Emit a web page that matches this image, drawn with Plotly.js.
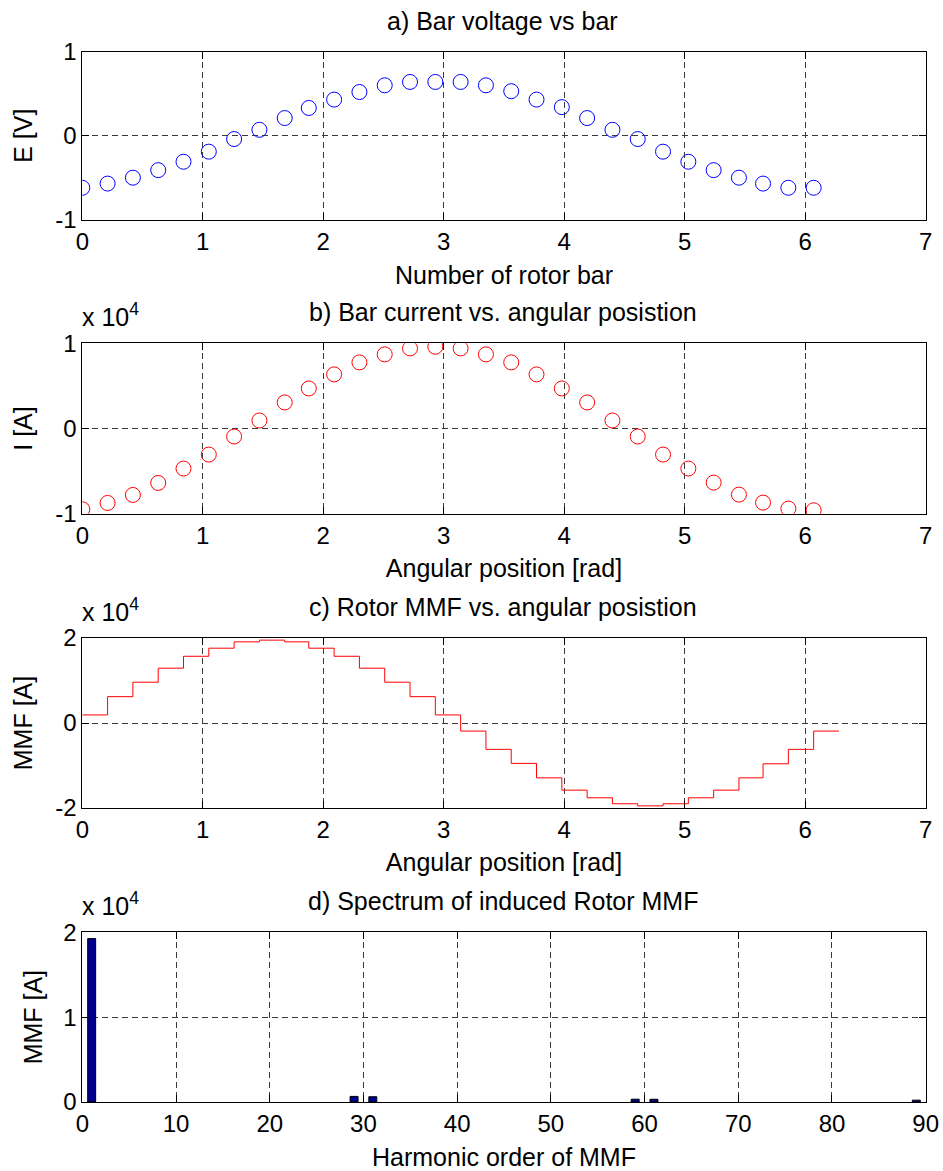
<!DOCTYPE html>
<html>
<head>
<meta charset="utf-8">
<script src="https://cdn.plot.ly/plotly-3.0.1.min.js"></script>
<style>
html,body{margin:0;padding:0;background:#fff;}
#chart{width:943px;height:1171px;}
</style>
</head>
<body>
<div id="chart"></div>
<script>
// ---- data ----
var barAngle = [0, 0.21, 0.42, 0.63, 0.84, 1.05, 1.26, 1.47, 1.68, 1.88,
                2.09, 2.30, 2.51, 2.72, 2.93, 3.14, 3.35, 3.56, 3.77, 3.98,
                4.19, 4.40, 4.61, 4.82, 5.03, 5.24, 5.45, 5.65, 5.86, 6.07];
var barVoltage = [-0.62, -0.57, -0.50, -0.41, -0.31, -0.19, -0.04, 0.07, 0.21, 0.33,
                  0.43, 0.52, 0.60, 0.64, 0.64, 0.64, 0.60, 0.53, 0.43, 0.34,
                  0.21, 0.07, -0.04, -0.19, -0.31, -0.41, -0.50, -0.57, -0.62, -0.62];
var barCurrent = [-9480, -8740, -7800, -6390, -4700, -3060, -940, 940, 3060, 4700,
                  6350, 7760, 8700, 9400, 9600, 9400, 8700, 7760, 6350, 4700,
                  3060, 940, -940, -3060, -4700, -6350, -7760, -8700, -9400, -9600];
var mmfAngle = [0, 0.21, 0.42, 0.63, 0.84, 1.05, 1.26, 1.47, 1.68, 1.88,
                2.09, 2.30, 2.51, 2.72, 2.93, 3.14, 3.35, 3.56, 3.77, 3.98,
                4.19, 4.40, 4.61, 4.82, 5.03, 5.24, 5.45, 5.65, 5.86, 6.07, 6.28];
var mmfLevel = [1900, 6200, 9600, 12900, 15700, 17600, 19100, 19500, 19100, 17600,
                15700, 12900, 9600, 6200, 1900, -1900, -6200, -9500, -12900, -15800,
                -17600, -19000, -19500, -19000, -17600, -15800, -12900, -9600, -6200, -1900, -1900];
var harmonicOrder = [1, 29, 31, 59, 61, 89];
var harmonicAmp = [19260, 660, 620, 330, 320, 220];

var yTickVals1 = [-1, 0, 1];
var yTickText1 = ['-1', '0', '1'];
var yTickVals2 = [-2, 0, 2];
var yTickText2 = ['-2', '0', '2'];
var yTickVals3 = [0, 1, 2];
var yTickText3 = ['0', '1', '2'];

var multiplier = 1e4;
function scaled(arr){ return arr.map(function(v){ return v / multiplier; }); }

// ---- traces ----
var traces = [
  {x: barAngle, y: barVoltage, xaxis: 'x', yaxis: 'y', type: 'scatter', mode: 'markers',
   marker: {symbol: 'circle-open', size: 15, color: '#0000ff', line: {width: 1, color: '#0000ff'}},
   showlegend: false},
  {x: barAngle, y: scaled(barCurrent), xaxis: 'x2', yaxis: 'y2', type: 'scatter', mode: 'markers',
   marker: {symbol: 'circle-open', size: 15, color: '#ff0000', line: {width: 1, color: '#ff0000'}},
   showlegend: false},
  {x: mmfAngle, y: scaled(mmfLevel), xaxis: 'x3', yaxis: 'y3', type: 'scatter', mode: 'lines',
   line: {shape: 'hv', color: '#ff0000', width: 1}, showlegend: false},
  {x: harmonicOrder, y: scaled(harmonicAmp), xaxis: 'x4', yaxis: 'y4', type: 'bar',
   width: 0.85, marker: {color: '#00008f', line: {color: '#000000', width: 1}}, showlegend: false}
];

var FONT = 'Liberation Sans, Arial, Helvetica, sans-serif';
var W = 943, H = 1171;
function px2y(p){ return 1 - p / H; }

function axisBase(extra){
  var a = {
    showline: true, linecolor: '#000', linewidth: 1, mirror: 'ticks',
    ticks: 'inside', ticklen: 7, tickcolor: '#000', tickwidth: 1,
    showgrid: true, gridcolor: '#3a3a3a', gridwidth: 1, griddash: '6px,4px',
    zeroline: false, fixedrange: true,
    tickfont: {family: FONT, size: 24, color: '#000'}
  };
  for (var k in extra) a[k] = extra[k];
  return a;
}
var xdom = [82.3 / W, 925.7 / W];
var doms = [
  [px2y(219.7), px2y(51.7)],
  [px2y(513.7), px2y(343.3)],
  [px2y(808), px2y(638)],
  [px2y(1102), px2y(932.3)]
];
var titleFont = {family: FONT, size: 25, color: '#000'};

var layout = {
  width: W, height: H,
  margin: {l: 0, r: 0, t: 0, b: 0},
  paper_bgcolor: '#fff', plot_bgcolor: '#fff',
  showlegend: false,
  font: {family: FONT, color: '#000'},
  xaxis: axisBase({domain: xdom, anchor: 'y', range: [0, 7], dtick: 1, tick0: 0,
    title: {text: 'Number of rotor bar', font: titleFont, standoff: 12}}),
  yaxis: axisBase({domain: doms[0], anchor: 'x', range: [-1, 1], tickvals: yTickVals1, ticktext: yTickText1,
    title: {text: 'E [V]', font: titleFont, standoff: 15}}),
  xaxis2: axisBase({domain: xdom, anchor: 'y2', range: [0, 7], dtick: 1, tick0: 0,
    title: {text: 'Angular position [rad]', font: titleFont, standoff: 11}}),
  yaxis2: axisBase({domain: doms[1], anchor: 'x2', range: [-1, 1], tickvals: yTickVals1, ticktext: yTickText1,
    title: {text: 'I [A]', font: titleFont, standoff: 15}}),
  xaxis3: axisBase({domain: xdom, anchor: 'y3', range: [0, 7], dtick: 1, tick0: 0,
    title: {text: 'Angular position [rad]', font: titleFont, standoff: 11}}),
  yaxis3: axisBase({domain: doms[2], anchor: 'x3', range: [-2, 2], tickvals: yTickVals2, ticktext: yTickText2,
    title: {text: 'MMF [A]', font: titleFont, standoff: 15}}),
  xaxis4: axisBase({domain: xdom, anchor: 'y4', range: [0, 90], dtick: 10, tick0: 0,
    title: {text: 'Harmonic order of MMF', font: titleFont, standoff: 13}}),
  yaxis4: axisBase({domain: doms[3], anchor: 'x4', range: [0, 2], tickvals: yTickVals3, ticktext: yTickText3,
    title: {text: 'MMF [A]', font: titleFont, standoff: 13}}),
  bargap: 0,
  annotations: [
    {text: 'a) Bar voltage vs bar', xref: 'paper', yref: 'paper', x: 503 / W, y: px2y(20.5),
     xanchor: 'center', yanchor: 'middle', showarrow: false, font: titleFont},
    {text: 'b) Bar current vs. angular posistion', xref: 'paper', yref: 'paper', x: 503 / W, y: px2y(312),
     xanchor: 'center', yanchor: 'middle', showarrow: false, font: titleFont},
    {text: 'c) Rotor MMF vs. angular posistion', xref: 'paper', yref: 'paper', x: 503 / W, y: px2y(607),
     xanchor: 'center', yanchor: 'middle', showarrow: false, font: titleFont},
    {text: 'd) Spectrum of induced Rotor MMF', xref: 'paper', yref: 'paper', x: 503 / W, y: px2y(900.5),
     xanchor: 'center', yanchor: 'middle', showarrow: false, font: titleFont},
    {text: 'x 10<sup>4</sup>', xref: 'paper', yref: 'paper', x: 80 / W, y: px2y(333),
     xanchor: 'left', yanchor: 'bottom', showarrow: false, font: {family: FONT, size: 25, color: '#000'}},
    {text: 'x 10<sup>4</sup>', xref: 'paper', yref: 'paper', x: 80 / W, y: px2y(628),
     xanchor: 'left', yanchor: 'bottom', showarrow: false, font: {family: FONT, size: 25, color: '#000'}},
    {text: 'x 10<sup>4</sup>', xref: 'paper', yref: 'paper', x: 80 / W, y: px2y(921.7),
     xanchor: 'left', yanchor: 'bottom', showarrow: false, font: {family: FONT, size: 25, color: '#000'}}
  ]
};

Plotly.newPlot('chart', traces, layout, {displayModeBar: false, staticPlot: true});
</script>
</body>
</html>
